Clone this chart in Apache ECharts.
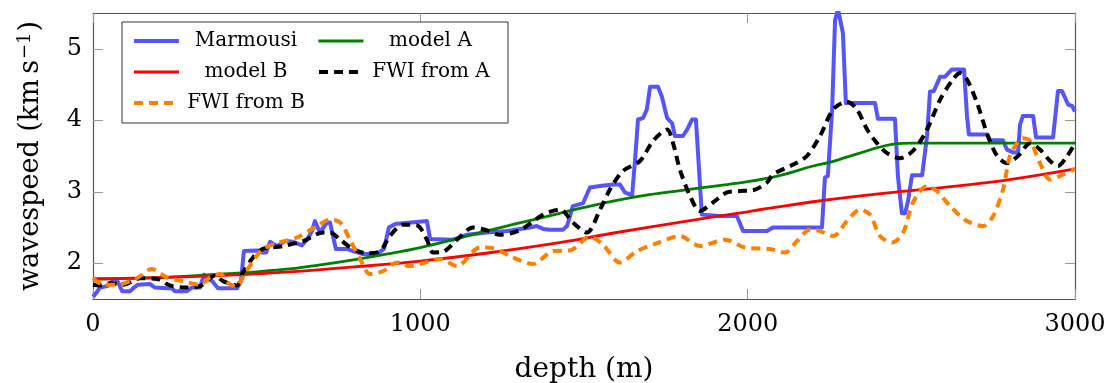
<!DOCTYPE html>
<html>
<head>
<meta charset="utf-8">
<script src="https://cdn.jsdelivr.net/npm/echarts@6/dist/echarts.min.js"></script>
<style>
html,body{margin:0;padding:0;background:#fff;}
#chart{width:1109px;height:383px;}
</style>
</head>
<body>
<div id="chart"></div>
<script>
// ---- data ----
const xTicks = [0, 1000, 2000, 3000];
const yTicks = [2, 3, 4, 5];
const seriesNames = ['Marmousi', 'model A', 'model B', 'FWI from A', 'FWI from B'];

const marmousiDepth = [0,9,21,43,58,76,89,113,128,137,174,189,226,241,250,287,302,327,339,364,382,440,452,461,501,516,529,541,562,587,611,638,654,669,678,693,715,724,742,776,794,825,868,889,904,923,1020,1030,1100,1143,1204,1265,1335,1356,1375,1396,1436,1448,1466,1497,1518,1549,1589,1610,1625,1647,1656,1665,1680,1692,1702,1726,1738,1754,1769,1778,1802,1815,1830,1842,1860,1915,1967,1986,2059,2077,2227,2236,2245,2258,2267,2276,2291,2300,2389,2398,2450,2459,2471,2481,2490,2502,2533,2548,2557,2569,2588,2603,2624,2661,2670,2676,2731,2740,2780,2792,2811,2826,2832,2841,2872,2881,2933,2948,2960,2979,2991,3000];
const marmousiSpeed = [1.53,1.58,1.66,1.68,1.74,1.74,1.61,1.61,1.67,1.70,1.71,1.66,1.65,1.65,1.61,1.61,1.66,1.66,1.84,1.75,1.65,1.65,1.75,2.17,2.18,2.15,2.15,2.30,2.24,2.31,2.30,2.25,2.33,2.45,2.59,2.43,2.57,2.57,2.20,2.20,2.17,2.13,2.13,2.20,2.50,2.55,2.59,2.34,2.33,2.40,2.43,2.45,2.50,2.52,2.48,2.47,2.47,2.52,2.80,2.84,3.06,3.08,3.10,3.10,2.99,2.95,3.45,4.01,4.03,4.15,4.47,4.47,4.33,4.03,3.96,3.78,3.78,3.87,4.01,4.01,2.68,2.66,2.66,2.45,2.45,2.50,2.50,3.20,3.22,4.15,5.40,5.55,5.22,4.24,4.24,4.02,4.02,3.22,2.70,2.70,2.87,3.23,3.23,3.78,4.40,4.41,4.61,4.61,4.71,4.71,4.06,3.80,3.80,3.72,3.72,3.59,3.55,3.55,3.94,4.06,4.06,3.76,3.76,4.41,4.41,4.22,4.20,4.12];

const modelADepth = [0,200,400,500,600,700,800,900,1000,1100,1200,1300,1400,1500,1600,1700,1800,1900,2000,2100,2200,2250,2300,2350,2400,2450,2500,2600,2800,3000];
const modelASpeed = [1.78,1.80,1.85,1.88,1.92,1.98,2.05,2.13,2.22,2.33,2.45,2.56,2.67,2.78,2.88,2.96,3.02,3.08,3.14,3.23,3.36,3.41,3.48,3.55,3.62,3.67,3.68,3.68,3.68,3.68];

const modelBDepth = [0,200,400,600,800,1000,1200,1400,1600,1800,2000,2200,2400,2600,2800,3000];
const modelBSpeed = [1.78,1.80,1.83,1.88,1.95,2.03,2.14,2.27,2.43,2.58,2.72,2.86,2.97,3.06,3.17,3.32];

const fwiADepth = [0,21,52,92,144,196,235,287,327,373,397,440,458,489,519,580,642,703,724,755,794,837,877,907,947,990,1020,1039,1069,1112,1161,1204,1243,1304,1375,1427,1466,1509,1549,1579,1619,1671,1711,1754,1772,1793,1824,1854,1894,1937,1977,2016,2059,2077,2139,2181,2221,2261,2303,2334,2365,2395,2426,2465,2505,2548,2588,2627,2649,2670,2701,2731,2762,2792,2826,2863,2893,2924,2948,2976,3000];
const fwiASpeed = [1.70,1.69,1.72,1.70,1.79,1.78,1.69,1.66,1.68,1.83,1.75,1.69,1.87,2.08,2.20,2.24,2.31,2.43,2.43,2.33,2.20,2.14,2.17,2.38,2.54,2.53,2.33,2.15,2.16,2.33,2.50,2.46,2.40,2.46,2.68,2.75,2.57,2.43,2.75,3.03,3.29,3.43,3.71,3.87,3.68,3.31,2.94,2.73,2.85,2.99,3.01,3.02,3.13,3.24,3.38,3.50,3.78,4.15,4.26,4.15,3.87,3.68,3.54,3.47,3.57,3.87,4.29,4.57,4.66,4.57,4.24,3.82,3.50,3.40,3.50,3.68,3.59,3.43,3.36,3.50,3.68];

const fwiBDepth = [0,31,73,134,180,226,275,327,357,388,419,440,458,489,519,562,623,684,724,755,785,816,846,886,929,968,1008,1060,1112,1182,1222,1283,1344,1405,1457,1518,1558,1610,1662,1717,1793,1854,1931,1992,2068,2114,2151,2190,2221,2261,2303,2343,2374,2404,2441,2475,2505,2548,2578,2618,2670,2719,2750,2780,2801,2823,2841,2863,2893,2924,2954,3000];
const fwiBSpeed = [1.79,1.70,1.70,1.79,1.92,1.80,1.75,1.70,1.80,1.85,1.70,1.68,1.81,2.03,2.20,2.28,2.36,2.52,2.61,2.57,2.33,2.06,1.85,1.89,2.01,1.96,2.00,2.06,1.96,2.22,2.21,2.08,1.99,2.17,2.18,2.37,2.26,2.01,2.17,2.27,2.38,2.24,2.33,2.22,2.20,2.15,2.31,2.47,2.45,2.38,2.59,2.75,2.68,2.38,2.29,2.43,2.85,3.08,3.01,2.80,2.59,2.52,2.66,3.03,3.50,3.68,3.75,3.71,3.40,3.17,3.22,3.32];

// ---- chart ----
const zip = (xs, ys) => xs.map((x, i) => [x, ys[i]]);
const FONT = 'DejaVu Serif';
const frameColor = '#555';
const tickColor = '#999';

const chart = echarts.init(document.getElementById('chart'), null, {renderer: 'canvas'});

function mkSeries(name, data, color, width, dashed, smooth, z) {
  return {
    name: name, type: 'line', data: data,
    xAxisIndex: 0, yAxisIndex: 0,
    symbol: 'none', showSymbol: false,
    smooth: smooth, z: z,
    lineStyle: {color: color, width: width, type: dashed ? [9, 6] : 'solid', cap: 'butt', join: 'round'},
    itemStyle: {color: color},
    emphasis: {disabled: true},
    animation: false,
    clip: true
  };
}

const option = {
  animation: false,
  backgroundColor: '#fff',
  textStyle: {fontFamily: FONT},
  grid: {left: 93, right: 34, top: 13, bottom: 84, containLabel: false, outerBoundsMode: 'none'},
  legend: {
    data: seriesNames,
    left: 122, top: 22,
    width: 370,
    orient: 'horizontal',
    itemWidth: 45, itemHeight: 22, itemGap: 9,
    padding: [8, 15, 9, 10],
    borderColor: '#333', borderWidth: 1,
    backgroundColor: '#fff',
    selectedMode: false,
    itemStyle: {opacity: 0},
    lineStyle: {width: 'inherit'},
    textStyle: {
      fontFamily: FONT, fontSize: 20, color: '#000',
      rich: {c: {fontFamily: FONT, fontSize: 20, width: 124, height: 22, align: 'center', lineHeight: 22, color: '#000'}}
    },
    formatter: '{c|{name}}'
  },
  xAxis: [{
    type: 'value', min: 0, max: 3000, position: 'bottom',
    name: 'depth (m)', nameLocation: 'middle', nameGap: 57,
    nameTextStyle: {fontFamily: FONT, fontSize: 28, color: '#000'},
    axisLine: {show: true, onZero: false, lineStyle: {color: frameColor, width: 1.2}},
    axisTick: {show: true, inside: true, length: 10, customValues: xTicks, lineStyle: {color: tickColor, width: 1}},
    axisLabel: {show: true, customValues: xTicks, margin: 14, fontFamily: FONT, fontSize: 24, color: '#000',
      formatter: v => String(v)},
    splitLine: {show: false}
  }, {
    type: 'value', min: 0, max: 3000, position: 'top',
    axisLine: {show: true, onZero: false, lineStyle: {color: frameColor, width: 1.2}},
    axisTick: {show: true, inside: true, length: 10, customValues: xTicks, lineStyle: {color: tickColor, width: 1}},
    axisLabel: {show: false},
    splitLine: {show: false}
  }],
  yAxis: [{
    type: 'value', min: 1.5, max: 5.5, position: 'left',
    name: 'wavespeed (km\u2009s{sup|\u22121})', nameLocation: 'middle', nameGap: 47, nameRotate: 90,
    nameTextStyle: {fontFamily: FONT, fontSize: 27, color: '#000',
      rich: {sup: {fontFamily: FONT, fontSize: 18, color: '#000', verticalAlign: 'bottom', padding: [0, 1, 12, 1]}}},
    axisLine: {show: true, onZero: false, lineStyle: {color: frameColor, width: 1.2}},
    axisTick: {show: true, inside: true, length: 10, customValues: yTicks, lineStyle: {color: tickColor, width: 1}},
    axisLabel: {show: true, customValues: yTicks, margin: 11, fontFamily: FONT, fontSize: 24, color: '#000',
      formatter: v => String(v)},
    splitLine: {show: false}
  }, {
    type: 'value', min: 1.5, max: 5.5, position: 'right',
    axisLine: {show: true, onZero: false, lineStyle: {color: frameColor, width: 1.2}},
    axisTick: {show: true, inside: true, length: 10, customValues: yTicks, lineStyle: {color: tickColor, width: 1}},
    axisLabel: {show: false},
    splitLine: {show: false}
  }],
  series: [
    mkSeries('Marmousi', zip(marmousiDepth, marmousiSpeed), '#5555ff', 4, false, false, 2),
    mkSeries('model A', zip(modelADepth, modelASpeed), '#008000', 2.8, false, 0.4, 3),
    mkSeries('model B', zip(modelBDepth, modelBSpeed), '#ff0000', 2.8, false, 0.4, 4),
    mkSeries('FWI from A', zip(fwiADepth, fwiASpeed), '#000000', 4, true, 0.3, 5),
    mkSeries('FWI from B', zip(fwiBDepth, fwiBSpeed), '#ff8000', 4, true, 0.3, 6)
  ]
};
chart.setOption(option);
</script>
</body>
</html>
